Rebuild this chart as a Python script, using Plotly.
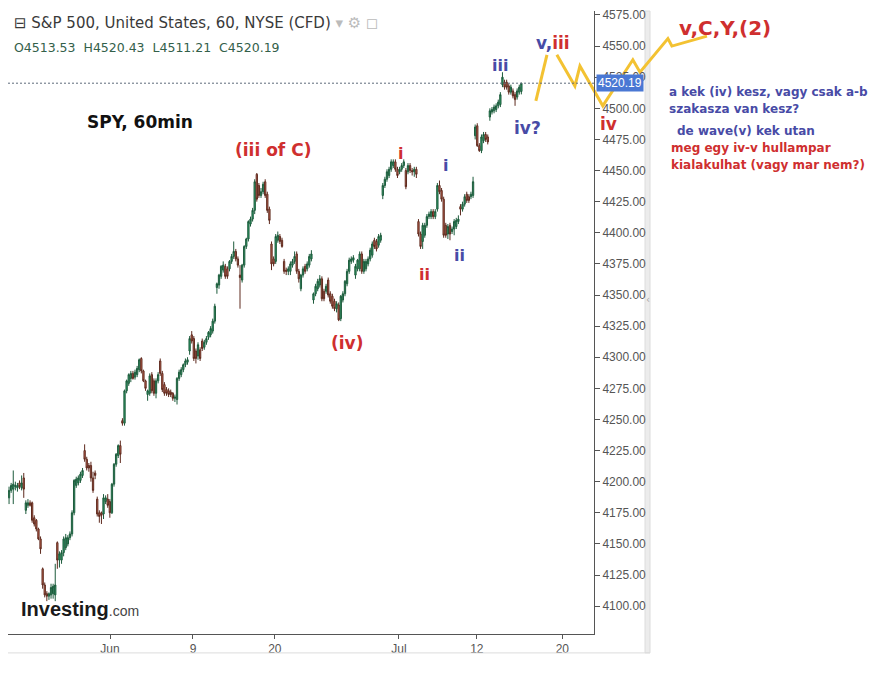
import plotly.graph_objects as go

# hourly candles, SPX CFD (one row ~ one session)
opens = [
    4187, 4193, 4194, 4196, 4195, 4199, 4195, 4203,
    4177, 4181, 4183, 4183, 4171, 4169, 4162, 4154,
    4130, 4117, 4110, 4108, 4109, 4110, 4109,
    4151, 4137, 4137, 4143, 4147, 4150, 4155, 4158, 4175, 4197, 4199, 4201, 4205,
    4225, 4218, 4213, 4213, 4203, 4207,
    4186, 4175, 4175, 4174, 4184, 4186, 4184, 4175, 4198, 4214, 4221, 4229,
    4249, 4247, 4273, 4279, 4283, 4287, 4284, 4286, 4290, 4299, 4289, 4281, 4270, 4271, 4286, 4281,
    4271, 4281, 4297, 4287, 4278, 4274, 4273, 4272, 4271, 4267, 4266, 4283, 4286, 4290, 4294, 4296,
    4305, 4318, 4315, 4305, 4301, 4306, 4313, 4308, 4312, 4316, 4318, 4321, 4329,
    4356, 4358, 4365, 4370, 4373, 4371, 4371, 4377, 4381, 4385, 4379,
    4366, 4362, 4374, 4389, 4395, 4407, 4411, 4418, 4447, 4438, 4430, 4433, 4441, 4431, 4419,
    4391, 4379, 4377, 4394, 4397, 4394,
    4377, 4370, 4369, 4369, 4374, 4377, 4383, 4369, 4355, 4366, 4373, 4371, 4374, 4379,
    4346, 4351, 4355, 4358, 4363, 4353, 4353, 4362, 4351, 4349, 4345, 4339, 4342, 4331, 4346, 4351,
    4359, 4369, 4377, 4378,
    4366, 4371, 4371, 4383, 4369, 4371, 4375, 4379, 4382, 4394, 4393, 4390, 4394,
    4430, 4438, 4443, 4446, 4451, 4454, 4457, 4451, 4449, 4451, 4454, 4450, 4449, 4454, 4450, 4449, 4451,
    4409, 4399, 4393, 4398, 4406, 4413, 4413, 4417, 4413,
    4419, 4438, 4434, 4427, 4406, 4399, 4406, 4401, 4403, 4405, 4409,
    4421, 4419, 4423, 4431, 4429, 4429, 4430,
    4478, 4486, 4470, 4466, 4474, 4479, 4477,
    4493, 4497, 4498, 4499, 4502, 4503,
    4519, 4521, 4521, 4518, 4513, 4514, 4511, 4509, 4513, 4513.53,
]
highs = [
    4196, 4199, 4209, 4200, 4199, 4201, 4205, 4207,
    4185, 4186, 4185, 4184, 4173, 4170, 4163, 4156,
    4131, 4119, 4112, 4111, 4118, 4118, 4134,
    4152, 4144, 4145, 4156, 4158, 4157, 4160, 4177, 4202, 4204, 4205, 4208, 4211,
    4230, 4220, 4215, 4216, 4208, 4209,
    4188, 4177, 4176, 4190, 4189, 4190, 4186, 4199, 4215, 4223, 4230, 4233,
    4251, 4274, 4282, 4287, 4289, 4289, 4290, 4293, 4299, 4300, 4290, 4282, 4274, 4287, 4288, 4283,
    4283, 4288, 4299, 4289, 4280, 4276, 4275, 4274, 4272, 4270, 4284, 4290, 4292, 4295, 4299, 4300,
    4317, 4321, 4317, 4307, 4312, 4308, 4315, 4314, 4317, 4321, 4325, 4331, 4343,
    4360, 4367, 4374, 4377, 4375, 4373, 4378, 4383, 4393, 4387, 4381,
    4374, 4375, 4390, 4396, 4410, 4413, 4420, 4443, 4448, 4440, 4436, 4441, 4443, 4433, 4421,
    4393, 4381, 4399, 4401, 4399, 4396,
    4379, 4372, 4373, 4377, 4379, 4385, 4385, 4371, 4367, 4373, 4375, 4377, 4383, 4386,
    4352, 4359, 4363, 4366, 4365, 4355, 4359, 4364, 4353, 4351, 4347, 4345, 4344, 4350, 4353, 4362,
    4371, 4380, 4381, 4382,
    4375, 4379, 4385, 4385, 4379, 4379, 4381, 4388, 4393, 4396, 4395, 4399, 4400,
    4440, 4445, 4451, 4453, 4459, 4459, 4459, 4453, 4453, 4456, 4459, 4452, 4456, 4456, 4452, 4453, 4453,
    4411, 4401, 4408, 4408, 4415, 4417, 4419, 4419, 4419,
    4440, 4442, 4436, 4429, 4408, 4407, 4408, 4405, 4411, 4412, 4414,
    4423, 4425, 4431, 4433, 4431, 4433, 4445,
    4487, 4488, 4472, 4479, 4481, 4481, 4479,
    4500, 4501, 4503, 4504, 4507, 4513,
    4529, 4523, 4523, 4520, 4519, 4516, 4513, 4516, 4519, 4520.43,
]
lows = [
    4182, 4191, 4182, 4193, 4192, 4194, 4193, 4187,
    4174, 4179, 4180, 4167, 4164, 4160, 4153, 4142,
    4114, 4107, 4104, 4105, 4106, 4106, 4104,
    4130, 4131, 4134, 4140, 4145, 4148, 4153, 4156, 4173, 4195, 4197, 4199, 4203,
    4216, 4209, 4208, 4200, 4191, 4202,
    4172, 4167, 4166, 4170, 4182, 4179, 4171, 4174, 4196, 4212, 4219, 4215,
    4245, 4245, 4271, 4277, 4280, 4282, 4282, 4284, 4288, 4287, 4280, 4273, 4265, 4269, 4271, 4269,
    4267, 4279, 4285, 4272, 4269, 4269, 4268, 4268, 4265, 4264, 4262, 4281, 4284, 4288, 4292, 4294,
    4302, 4311, 4297, 4295, 4298, 4297, 4305, 4306, 4310, 4314, 4316, 4319, 4327,
    4351, 4355, 4363, 4368, 4363, 4363, 4369, 4375, 4379, 4377, 4372,
    4339, 4360, 4372, 4387, 4393, 4405, 4409, 4415, 4425, 4428, 4428, 4431, 4428, 4416, 4407,
    4370, 4373, 4375, 4392, 4391, 4388,
    4367, 4366, 4366, 4366, 4372, 4375, 4367, 4360, 4353, 4364, 4367, 4369, 4372, 4377,
    4343, 4349, 4353, 4356, 4345, 4345, 4351, 4348, 4343, 4339, 4337, 4336, 4329, 4329, 4344, 4349,
    4357, 4367, 4375, 4376,
    4363, 4369, 4369, 4367, 4367, 4369, 4373, 4377, 4380, 4387, 4385, 4388, 4392,
    4427, 4436, 4441, 4444, 4449, 4452, 4449, 4444, 4447, 4449, 4452, 4435, 4447, 4448, 4446, 4445, 4444,
    4397, 4387, 4387, 4396, 4404, 4411, 4411, 4411, 4411,
    4417, 4431, 4425, 4396, 4396, 4395, 4394, 4399, 4398, 4403, 4407,
    4414, 4417, 4421, 4424, 4424, 4427, 4428,
    4475, 4469, 4465, 4464, 4472, 4473, 4471,
    4490, 4495, 4496, 4497, 4500, 4501,
    4517, 4515, 4515, 4511, 4511, 4508, 4502, 4507, 4511, 4511.21,
]
closes = [
    4193, 4197, 4198, 4197, 4197, 4196, 4199, 4194,
    4183, 4183, 4181, 4169, 4166, 4162, 4154, 4146,
    4117, 4109, 4108, 4110, 4115, 4116, 4117,
    4137, 4142, 4143, 4154, 4155, 4155, 4158, 4175, 4201, 4202, 4203, 4206, 4209,
    4218, 4211, 4211, 4203, 4193, 4205,
    4174, 4172, 4173, 4187, 4187, 4181, 4175, 4198, 4214, 4222, 4229, 4222,
    4247, 4273, 4281, 4286, 4287, 4283, 4288, 4291, 4298, 4289, 4281, 4275, 4273, 4285, 4273, 4271,
    4281, 4286, 4287, 4274, 4271, 4271, 4270, 4270, 4267, 4268, 4283, 4288, 4290, 4294, 4297, 4298,
    4315, 4313, 4299, 4299, 4310, 4299, 4307, 4312, 4315, 4320, 4323, 4329, 4341,
    4359, 4366, 4373, 4374, 4365, 4365, 4377, 4381, 4385, 4379, 4374,
    4364, 4374, 4389, 4395, 4409, 4411, 4418, 4441, 4427, 4430, 4433, 4439, 4430, 4418, 4410,
    4375, 4375, 4397, 4398, 4393, 4389,
    4369, 4369, 4371, 4375, 4377, 4381, 4369, 4363, 4366, 4371, 4369, 4375, 4381, 4383,
    4351, 4357, 4361, 4363, 4347, 4347, 4357, 4350, 4345, 4341, 4339, 4343, 4330, 4349, 4351, 4361,
    4369, 4378, 4379, 4380,
    4373, 4378, 4383, 4369, 4377, 4377, 4379, 4386, 4391, 4389, 4387, 4397, 4398,
    4438, 4443, 4449, 4451, 4457, 4457, 4451, 4446, 4451, 4454, 4457, 4437, 4454, 4450, 4449, 4451, 4447,
    4399, 4389, 4406, 4406, 4413, 4415, 4417, 4413, 4417,
    4438, 4433, 4427, 4398, 4398, 4405, 4399, 4403, 4409, 4410, 4411,
    4419, 4423, 4429, 4426, 4426, 4431, 4441,
    4485, 4470, 4466, 4477, 4479, 4475, 4473,
    4498, 4499, 4501, 4502, 4505, 4511,
    4525, 4517, 4517, 4513, 4517, 4510, 4507, 4514, 4517, 4520.19,
]
bars = list(range(len(closes)))

# x axis labels (bar number where each date starts)
tick_bars = [48.1, 87.6, 126.6, 185.7, 222.8, 263.5]
tick_labels = ['Jun', '9', '20', 'Jul', '12', '20']

# hand drawn projection (bar, price)
proj_bars = [250.9, 256.2, 260.9, 269.5, 271.9, 282.8, 297.1, 300.5, 313.8, 315.7, 332.4]
proj_prices = [4506, 4543, 4543, 4518, 4534, 4502, 4539, 4529, 4556, 4550, 4558]

last_price = closes[-1]
X_RANGE = [-0.5, 278.6]
Y_RANGE = [4077.6, 4578.2]

RED = '#cf2f2f'
BLUE = '#484ba6'

# the page puts the figure 8px in from the window corner;
# helpers take window pixels and give paper fractions
PLOT_L, PLOT_R, PLOT_T, PLOT_B = 8, 594, 8, 634


def px(x):
    return (x - PLOT_L) / (PLOT_R - PLOT_L)


def py(y):
    return (PLOT_B - y) / (PLOT_B - PLOT_T)


def bar_to_paper(b):
    return (b - X_RANGE[0]) / (X_RANGE[1] - X_RANGE[0])


def price_to_paper(p):
    return (p - Y_RANGE[0]) / (Y_RANGE[1] - Y_RANGE[0])


fig = go.Figure()
fig.add_trace(go.Candlestick(
    x=bars, open=opens, high=highs, low=lows, close=closes,
    increasing=dict(fillcolor='#2fa56c', line=dict(color='#1d5b3c', width=1)),
    decreasing=dict(fillcolor='#cf6a55', line=dict(color='#5e2a1e', width=1)),
    whiskerwidth=0, hoverinfo='skip', showlegend=False,
))

shapes = []
# panel frame (right and bottom edges + scroll strip)
shapes.append(dict(type='rect', xref='paper', yref='paper', x0=px(645), x1=px(650), y0=py(653), y1=py(8),
                   fillcolor='#ececec', line=dict(color='#dcdcdc', width=1), layer='below'))
shapes.append(dict(type='line', xref='paper', yref='paper', x0=px(8), x1=px(650), y0=py(653), y1=py(653),
                   line=dict(color='#dcdcdc', width=1)))
# last price line
shapes.append(dict(type='line', xref='paper', yref='y', x0=0, x1=1, y0=last_price, y1=last_price,
                   line=dict(color='#5d6b7a', width=1, dash='2px,2px')))

# projection zigzag (under the price tag)
pts = [(bar_to_paper(b), price_to_paper(p)) for b, p in zip(proj_bars, proj_prices)]
strokes = [pts[:2], pts[2:]]
for s in strokes:
    path = 'M ' + ' L '.join(f'{x:.4f},{y:.4f}' for x, y in s)
    shapes.append(dict(type='path', xref='paper', yref='paper', path=path, layer='below',
                       line=dict(color='#f3c232', width=3)))

ann = []


def label(text, x, y, color, size, anchor='center', font='DejaVu Sans'):
    ann.append(dict(text=text, x=px(x), y=py(y), xref='paper', yref='paper', showarrow=False,
                    xanchor=anchor, yanchor='middle', font=dict(family=font, size=size, color=color)))


# header
label('⊟ S&amp;P 500, United States, 60, NYSE (CFD) <span style="color:#bbb">▾ ⚙ ◻</span>',
      12, 20, '#3a3a3a', 15, 'left')
label('O4513.53  H4520.43  L4511.21  C4520.19', 12, 45, '#33604a', 12.5, 'left')

# wave labels
label('<b>SPY, 60min</b>', 140, 120, '#111111', 17)
label('<b>(iii of C)</b>', 273, 148, RED, 17)
label('<b>(iv)</b>', 347, 342, RED, 17)
label('<b>i</b>', 400, 151, RED, 16)
label('<b>ii</b>', 424, 273, RED, 16)
label('<b>i</b>', 445, 163, BLUE, 16)
label('<b>ii</b>', 459, 254, BLUE, 16)
label('<b>iii</b>', 500, 63, BLUE, 16)
label('<b>iv?</b>', 527, 126, BLUE, 17)
label(f'<b>v,<span style="color:{RED}">iii</span></b>', 553, 40, BLUE, 17)
label('<b>iv</b>', 608, 122, RED, 17)
label('<b>v,C,Y,(2)</b>', 725, 25, RED, 20)

# comments
label('<b>a kek (iv) kesz, vagy csak a-b</b>', 667, 89, BLUE, 12, 'left')
label('<b>szakasza van kesz?</b>', 667, 106, BLUE, 12, 'left')
label('<b>de wave(v) kek utan</b>', 675, 129, BLUE, 12, 'left')
label('<b>meg egy iv-v hullampar</b>', 669, 146, RED, 12, 'left')
label('<b>kialakulhat (vagy mar nem?)</b>', 669, 163, RED, 12, 'left')

# logo
label('<b>Investing</b><span style="font-size:14px;color:#444">.com</span>', 19, 609, '#1a1a1a', 20,
      'left', 'Liberation Sans')

# collapse handle on the scroll strip
label('‹', 648, 298, '#aaaaaa', 10)

# last price tag
ann.append(dict(text=f'{last_price:.2f}', x=1, y=last_price, xref='paper', yref='y', showarrow=False,
                xanchor='left', yanchor='middle', xshift=2, bgcolor='#4a78d4', borderpad=1,
                font=dict(family='Liberation Sans', size=12, color='white')))

fig.update_layout(
    width=883, height=669,
    margin=dict(l=0, r=297, t=0, b=43),
    paper_bgcolor='white', plot_bgcolor='white',
    showlegend=False, boxgap=0.12,
    shapes=shapes, annotations=ann,
    xaxis=dict(range=X_RANGE, rangeslider=dict(visible=False), showgrid=False, zeroline=False,
               tickmode='array', tickvals=tick_bars, ticktext=tick_labels,
               ticks='outside', ticklen=4, tickcolor='#555', showline=True, linecolor='#555',
               linewidth=1, tickfont=dict(family='Liberation Sans', size=12, color='#555')),
    yaxis=dict(range=Y_RANGE, side='right', showgrid=False, zeroline=False,
               tick0=4100, dtick=25, tickformat='.2f', ticklabeloverflow='allow',
               ticks='outside', ticklen=5, tickcolor='#555', showline=True, linecolor='#555',
               linewidth=1, tickfont=dict(family='Liberation Sans', size=12, color='#555')),
)

fig.write_html('out.html')
